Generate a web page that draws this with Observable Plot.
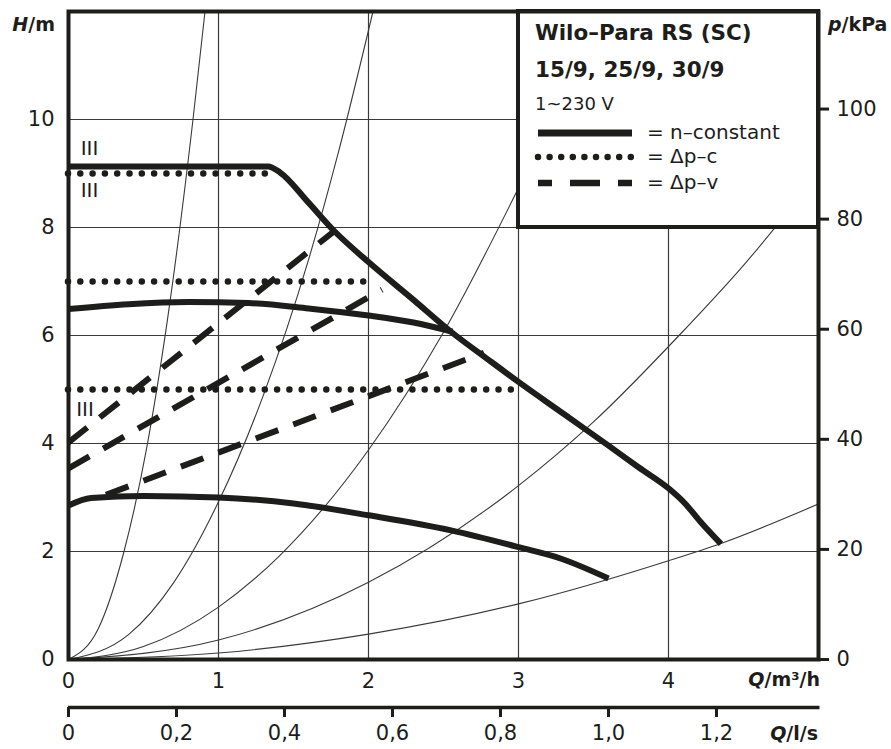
<!DOCTYPE html>
<html><head><meta charset="utf-8">
<script src="https://cdn.jsdelivr.net/npm/d3@7"></script>
<script src="https://cdn.jsdelivr.net/npm/@observablehq/plot@0.6"></script>
<style>body{margin:0;background:#fff} svg{display:block}</style>
</head><body><div id="chart"></div>
<script>
// ---------- data (Q in m³/h, H in m) ----------
const xTicks = [0, 1, 2, 3, 4];
const xGrid = [1, 2, 3, 4];
const hTicks = [0, 2, 4, 6, 8, 10];
const hGrid = [2, 4, 6, 8, 10];
const kpaTicks = [0, 20, 40, 60, 80, 100];
const lsTicks = [0, 0.2, 0.4, 0.6, 0.8, 1.0, 1.2];

// n-constant curves
const nConstMax = [[0, 9.13], [1.33, 9.13], [1.41, 9.02], [1.6, 8.46], [1.77, 7.94], [2.0, 7.36], [2.3, 6.66],
  [2.55, 6.07], [2.8, 5.55], [3.0, 5.14], [3.3, 4.55], [3.6, 3.96], [3.8, 3.56], [4.0, 3.17], [4.11, 2.89],
  [4.21, 2.56], [4.35, 2.14]];
const nConstMid = [[0, 6.49], [0.4, 6.58], [0.8, 6.62], [1.2, 6.6], [1.6, 6.5], [2.0, 6.37], [2.3, 6.24], [2.56, 6.07]];
const nConstMin = [[0, 2.85], [0.15, 2.99], [0.5, 3.03], [1.0, 3.0], [1.5, 2.89], [2.0, 2.67], [2.55, 2.39],
  [3.0, 2.08], [3.28, 1.87], [3.6, 1.5]];

// Δp-c levels
const dpcLevels = [9.0, 7.0, 5.0];
const dpcEnds = [1.33, 2.05, 3.0];

// Δp-v lines (start Q, start H, end Q, end H)
const dpvStartQ = [0, 0, 0.25];
const dpvStartH = [4.02, 3.54, 3.05];
const dpvEndQ = [1.77, 2.09, 2.77];
const dpvEndH = [7.93, 6.85, 5.68];

// system curves
const sysA = [[0, 0], [0.2, 0.58], [0.37, 2.0], [0.52, 3.9], [0.66, 6.3], [0.83, 10.0], [0.91, 12.0]];
const sysB = [[0, 0], [0.4, 0.46], [0.7, 1.42], [1.0, 2.92], [1.3, 4.9], [1.6, 7.4], [1.8, 9.4], [2.03, 12.0]];
const sysC = [[0, 0], [0.5, 0.24], [1.0, 0.97], [1.41, 1.93], [2.0, 3.88], [2.5, 6.06], [3.0, 8.73]];
const sysD = [[0, 0], [1.0, 0.36], [2.0, 1.43], [3.0, 3.22], [3.5, 4.4], [4.07, 6.0], [4.5, 7.3], [5.0, 9.0]];
const sysE = [[0, 0], [1.0, 0.12], [2.0, 0.47], [3.0, 1.03], [4.0, 1.83], [4.35, 2.15], [5.0, 2.88]];

// speed-stage labels
const stageQ = [0.14, 0.14, 0.11];
const stageH = [9.46, 8.69, 4.63];
const stageText = ["III", "III", "III"];

// legend
const legendBox = {q1: 3, q2: 5, h1: 8, h2: 12};
const legendTitle = ["Wilo–Para RS (SC)", "15/9, 25/9, 30/9"];
const legendVoltage = "1~230 V";
const legendLabels = ["= n–constant", "= Δp–c", "= Δp–v"];

// ---------- build ----------
const INK = "#1d1d1b";
const THIN = "#3a3a3a";
const dpc = dpcLevels.map((h, i) => ({h, q2: dpcEnds[i]}));
const dpv = dpvStartQ.map((q, i) => ({q1: q, h1: dpvStartH[i], q2: dpvEndQ[i], h2: dpvEndH[i]}));
const stages = stageText.map((t, i) => ({q: stageQ[i], h: stageH[i], t}));
const fmtLs = d => { const v = d / 3.6; return Math.abs(v) < 1e-9 ? "0" : v.toFixed(1).replace(".", ","); };
const fmtInt = d => String(Math.round(d));

const sysLine = data => Plot.line(data, {x: d => d[0], y: d => d[1], curve: "monotone-x", stroke: THIN, strokeWidth: 1.1, clip: true});
const heavy = data => Plot.line(data, {x: d => d[0], y: d => d[1], curve: "monotone-x", stroke: INK, strokeWidth: 6, strokeLinecap: "butt", strokeLinejoin: "round"});

const chart = Plot.plot({
  width: 891, height: 749,
  marginLeft: 68, marginRight: 73, marginTop: 11, marginBottom: 90,
  x: {domain: [0, 5]},
  y: {domain: [0, 12]},
  style: {fontFamily: "DejaVu Sans", fontSize: "21px", color: INK, background: "#fff"},
  marks: [
    Plot.gridX(xGrid, {stroke: THIN, strokeOpacity: 1, strokeWidth: 1.2}),
    Plot.gridY(hGrid, {stroke: THIN, strokeOpacity: 1, strokeWidth: 1.2}),
    sysLine(sysA), sysLine(sysB), sysLine(sysC), sysLine(sysD), sysLine(sysE),
    Plot.rect([legendBox], {x1: "q1", x2: "q2", y1: "h1", y2: "h2", fill: "#fff", stroke: INK, strokeWidth: 4}),
    Plot.ruleY(dpc, {y: "h", x1: 0, x2: "q2", stroke: INK, strokeWidth: 6.5, strokeLinecap: "round", strokeDasharray: "0,12.3"}),
    Plot.link(dpv, {x1: "q1", y1: "h1", x2: "q2", y2: "h2", stroke: INK, strokeWidth: 6, strokeDasharray: "24,16"}),
    heavy(nConstMin), heavy(nConstMid), heavy(nConstMax),
    Plot.text(stages, {x: "q", y: "h", text: "t", fontSize: 20, fill: INK}),
    Plot.frame({stroke: INK, strokeWidth: 4}),
    Plot.axisY(hTicks, {anchor: "left", tickSize: 0, tickPadding: 14, fontSize: 21, tickFormat: fmtInt, label: null}),
    Plot.axisY(kpaTicks.map(p => p / 9.81), {anchor: "right", tickSize: 10, tickPadding: 8, strokeWidth: 3, fontSize: 21,
      tickFormat: d => String(Math.round(d * 9.81)), label: null}),
    Plot.axisX(xTicks, {anchor: "bottom", tickSize: 0, tickPadding: 14, fontSize: 21, tickFormat: fmtInt, label: null}),
    Plot.ruleY([0], {x1: 0, x2: 5.01, dy: 48, stroke: INK, strokeWidth: 3.5}),
    Plot.axisX(lsTicks.map(v => v * 3.6), {anchor: "bottom", dy: 48, tickSize: 10, tickPadding: 8, strokeWidth: 3,
      fontSize: 21, tickFormat: fmtLs, label: null})
  ]
});
document.getElementById("chart").appendChild(chart);

// ---------- axis titles & legend ----------
const xs = chart.scale("x"), ys = chart.scale("y");
const svg = d3.select(chart);
const fLeft = xs.apply(0), fRight = xs.apply(5), fTop = ys.apply(12), fBottom = ys.apply(0);

function title(x, y, anchor, parts) {
  const t = svg.append("text").attr("x", x).attr("y", y).attr("text-anchor", anchor)
    .attr("font-family", "DejaVu Sans").attr("font-weight", "bold").attr("font-size", 19).attr("fill", INK);
  parts.forEach(([s, it]) => t.append("tspan").attr("font-style", it ? "italic" : null).text(s));
}
title(fLeft - 13, fTop + 20, "end", [["H", true], ["/m", false]]);
title(fRight + 10, fTop + 20, "start", [["p", true], ["/kPa", false]]);
title(fRight + 2, fBottom + 27, "end", [["Q", true], ["/m³/h", false]]);
title(fRight, fBottom + 81, "end", [["Q", true], ["/l/s", false]]);

const bx = xs.apply(legendBox.q1), by = ys.apply(legendBox.h2);
const lg = svg.append("g").attr("font-family", "DejaVu Sans").attr("fill", INK).attr("text-anchor", "start");
lg.append("text").attr("x", bx + 17).attr("y", by + 29).attr("font-weight", "bold").attr("font-size", 21.5).text(legendTitle[0]);
lg.append("text").attr("x", bx + 17).attr("y", by + 66).attr("font-weight", "bold").attr("font-size", 21.5).text(legendTitle[1]);
lg.append("text").attr("x", bx + 17).attr("y", by + 99).attr("font-size", 18).text(legendVoltage);
const itemY = [by + 122, by + 146, by + 172];
const sampleStyles = [
  {w: 7, dash: null, cap: "butt"},
  {w: 6.5, dash: "0,11.6", cap: "round"},
  {w: 6.5, dash: "14,18,30,18,14", cap: "butt"}
];
legendLabels.forEach((lab, i) => {
  const s = sampleStyles[i];
  const ln = lg.append("line").attr("x1", bx + 20).attr("x2", bx + 114).attr("y1", itemY[i]).attr("y2", itemY[i])
    .attr("stroke", INK).attr("stroke-width", s.w).attr("stroke-linecap", s.cap);
  if (s.dash) ln.attr("stroke-dasharray", s.dash);
  lg.append("text").attr("x", bx + 129).attr("y", itemY[i] + 6).attr("font-size", 20).text(lab);
});
</script></body></html>
